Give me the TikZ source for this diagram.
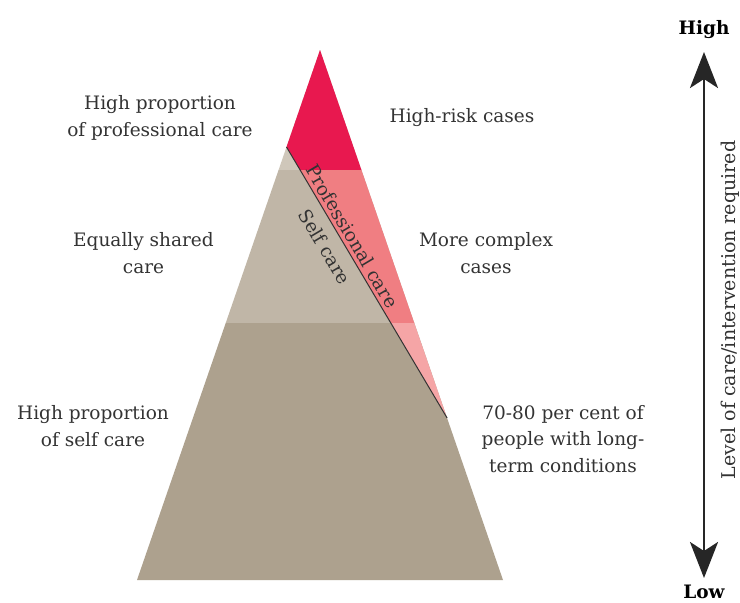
\documentclass[tikz,border=0pt]{standalone}
\usepackage{fontspec}
\setmainfont{DejaVu Serif}
\usetikzlibrary{arrows.meta}
\definecolor{txt}{HTML}{333333}
\definecolor{redA}{HTML}{E8184F}
\definecolor{redB}{HTML}{F07E82}
\definecolor{redC}{HTML}{F5A5A6}
\definecolor{tanA}{HTML}{CFC7BA}
\definecolor{tanB}{HTML}{C0B6A7}
\definecolor{tanC}{HTML}{ADA18E}
\begin{document}
\begin{tikzpicture}[x=1pt,y=-1pt,
  lbl/.style={text=txt,align=center,font=\fontsize{18.5}{26.5}\selectfont,inner sep=0pt},
  endlbl/.style={text=black,font=\fontsize{18.5}{20}\selectfont\bfseries,inner sep=0pt},
  slbl/.style={text=txt,font=\fontsize{18.5}{20}\selectfont,inner sep=0pt}]
\useasboundingbox (0,0) rectangle (740,603);
\fill[white] (0,0) rectangle (740,603);
% pyramid geometry
\coordinate (A) at (320,50);
\coordinate (BL) at (137,580);
\coordinate (BR) at (503,580);
\coordinate (D1) at (286.5,147);
\coordinate (D2) at (447.1,418);
\begin{scope}
  \clip (A) -- (BL) -- (BR) -- cycle;
  \fill[tanA] (100,0) rectangle (520,170);
  \fill[tanB] (100,170) rectangle (520,323);
  \fill[tanC] (100,323) rectangle (520,603);
  \begin{scope}
    \clip (199.4,0) -- (556.7,603) -- (740,603) -- (740,0) -- cycle;
    \fill[redA] (100,0) rectangle (520,170);
    \fill[redB] (100,170) rectangle (520,323);
    \fill[redC] (100,323) rectangle (520,603);
  \end{scope}
\end{scope}
\draw[line width=1pt,color=black!80] (D1) -- (D2)
  node[slbl,sloped,pos=0.35,above=3.5pt] (prof) {Professional care}
  node[slbl,sloped,pos=0.335,below=10pt] (self) {Self care};
% side labels
\node[lbl] (l1) at (160,118) {High proportion\\of professional care};
\node[lbl] (r1) at (462,118) {High-risk cases};
\node[lbl] (l2) at (143.5,253) {Equally shared\\care};
\node[lbl] (r2) at (486,253) {More complex\\cases};
\node[lbl] (l3) at (93,426) {High proportion\\of self care};
\node[lbl] (r3) at (563,439) {70-80 per cent of\\people with long-\\term conditions};
% scale arrow
\node[endlbl] (high) at (704,30) {High};
\node[endlbl] (low) at (704,592) {Low};
\coordinate (top) at (704,52);
\coordinate (bot) at (704,578);
\draw[line width=2.8pt,color=black!85,
  {Stealth[length=36pt,width=28pt,inset=9pt]}-{Stealth[length=36pt,width=28pt,inset=9pt]}] (top) -- (bot);
\node[lbl,font=\fontsize{19}{20}\selectfont,rotate=90] (lvl) at (730,310) {Level of care/intervention required};
\end{tikzpicture}
\end{document}
